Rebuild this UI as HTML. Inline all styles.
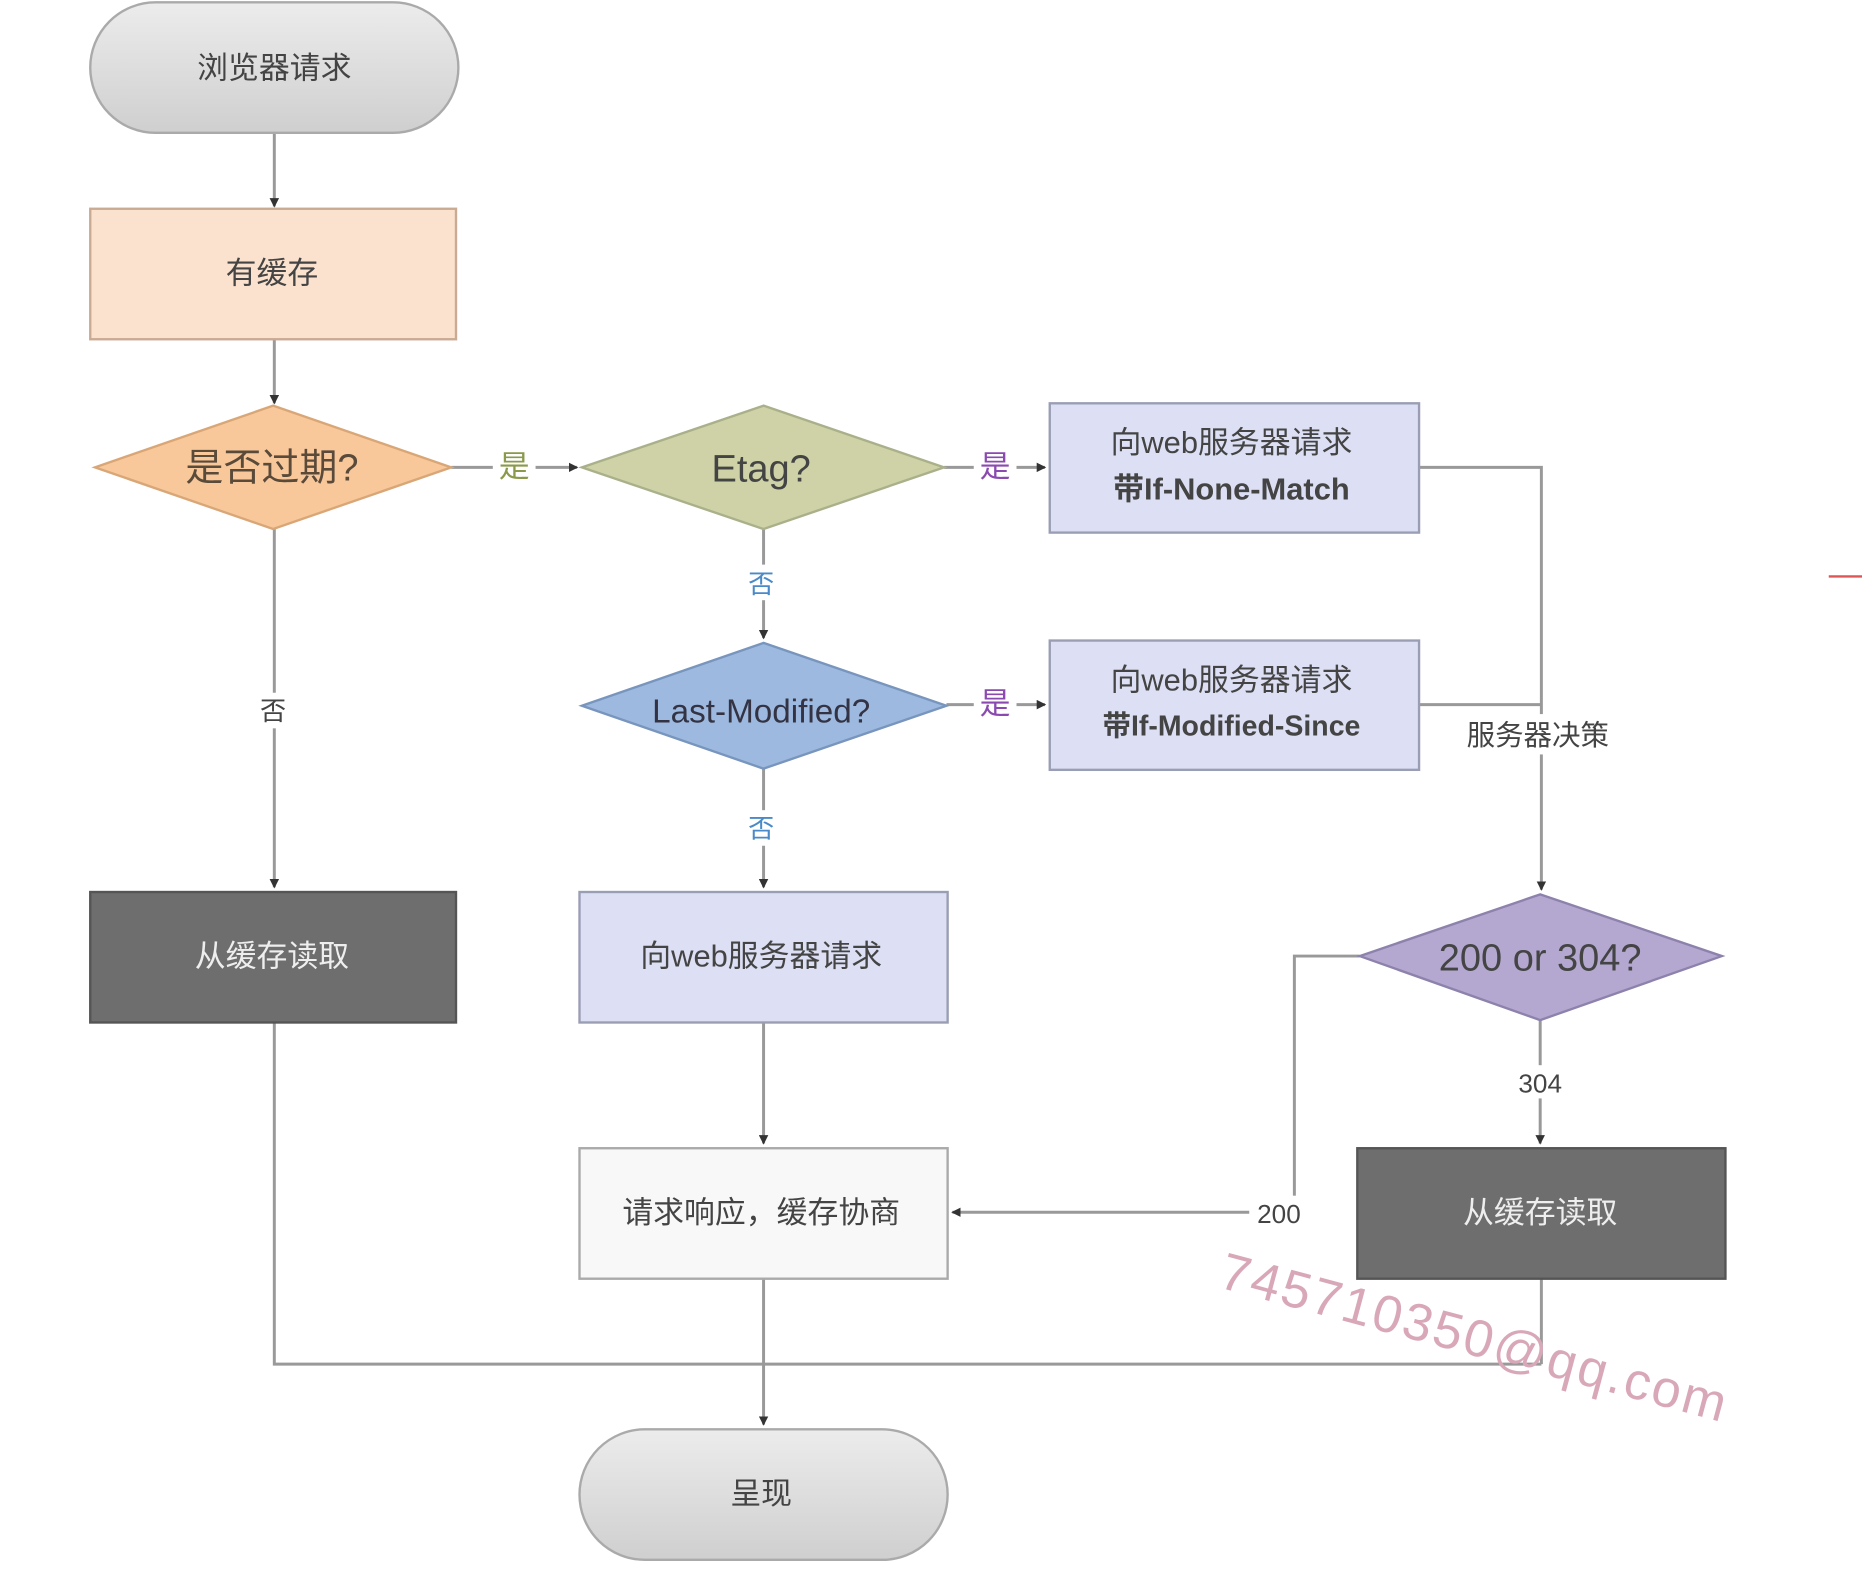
<!DOCTYPE html>
<html><head><meta charset="utf-8"><style>
html,body{margin:0;padding:0;background:#fff;}
svg{display:block}
text{font-family:"Liberation Sans","Noto Sans CJK SC",sans-serif;}
</style></head><body>
<svg width="1862" height="1580" viewBox="0 0 1568 1332" preserveAspectRatio="none" xmlns="http://www.w3.org/2000/svg">
<defs>
<linearGradient id="g" x1="0" y1="0" x2="0" y2="1"><stop offset="0" stop-color="#ececec"/><stop offset="1" stop-color="#cfcfcf"/></linearGradient>
<marker id="a" markerWidth="8" markerHeight="8" refX="7" refY="4" orient="auto" markerUnits="userSpaceOnUse"><path d="M0,0 L8,4 L0,8 z" fill="#333"/></marker>
</defs>
<rect width="1568" height="1332" fill="#fff"/>
<g stroke="#999" stroke-width="2.5" fill="none">
<line x1="231" y1="112" x2="231" y2="174" marker-end="url(#a)"/>
<line x1="231" y1="286" x2="231" y2="340" marker-end="url(#a)"/>
<line x1="380" y1="394" x2="486" y2="394" marker-end="url(#a)"/>
<line x1="795" y1="394" x2="880" y2="394" marker-end="url(#a)"/>
<polyline points="1195,394 1298,394 1298,750" marker-end="url(#a)"/>
<line x1="1195" y1="594" x2="1298" y2="594"/>
<line x1="643" y1="446" x2="643" y2="538" marker-end="url(#a)"/>
<line x1="797" y1="594" x2="880" y2="594" marker-end="url(#a)"/>
<line x1="643" y1="648" x2="643" y2="748" marker-end="url(#a)"/>
<line x1="643" y1="862" x2="643" y2="964" marker-end="url(#a)"/>
<line x1="643" y1="1078" x2="643" y2="1201" marker-end="url(#a)"/>
<line x1="231" y1="446" x2="231" y2="748" marker-end="url(#a)"/>
<polyline points="231,862 231,1150 1298,1150"/>
<line x1="1298" y1="1078" x2="1298" y2="1150"/>
<line x1="1297" y1="860" x2="1297" y2="964" marker-end="url(#a)"/>
<polyline points="1145,806 1090,806 1090,1022 802,1022" marker-end="url(#a)"/>
</g>
<g fill="#fff">
<rect x="415" y="378" width="36" height="30"/>
<rect x="820" y="378" width="36" height="30"/>
<rect x="820" y="578" width="36" height="30"/>
<rect x="625" y="476" width="34" height="30"/>
<rect x="625" y="683" width="34" height="30"/>
<rect x="214" y="584" width="34" height="30"/>
<rect x="1216" y="602" width="158" height="34"/>
<rect x="1272" y="898" width="50" height="28"/>
<rect x="1052" y="1008" width="52" height="28"/>
</g>
<g stroke-width="2">
<rect x="76" y="2" width="310" height="110" rx="55" fill="url(#g)" stroke="#aaa"/>
<rect x="76" y="176" width="308" height="110" fill="#fbe2cf" stroke="#c9ab93"/>
<polygon points="80,394 230,342 380,394 230,446" fill="#f8c89b" stroke="#d9a777"/>
<polygon points="490,394 643,342 795,394 643,446" fill="#cfd2a6" stroke="#aab08a"/>
<rect x="884" y="340" width="311" height="109" fill="#dde0f4" stroke="#9a9eb5"/>
<polygon points="490,595 643,542 797,595 643,648" fill="#9db9df" stroke="#7895bd"/>
<rect x="884" y="540" width="311" height="109" fill="#dde0f4" stroke="#9a9eb5"/>
<rect x="76" y="752" width="308" height="110" fill="#6e6e6e" stroke="#555"/>
<rect x="488" y="752" width="310" height="110" fill="#dde0f4" stroke="#9a9eb5"/>
<rect x="488" y="968" width="310" height="110" fill="#f8f8f8" stroke="#aaa"/>
<rect x="488" y="1205" width="310" height="110" rx="55" fill="url(#g)" stroke="#aaa"/>
<polygon points="1145,806 1297,754 1450,806 1297,860" fill="#b4a8d1" stroke="#8d82ac"/>
<rect x="1143" y="968" width="310" height="110" fill="#6e6e6e" stroke="#555"/>
</g>
<g font-size="26" text-anchor="middle" fill="#444">
<text x="231" y="66">浏览器请求</text>
<text x="229" y="239">有缓存</text>
<text x="229" y="405" font-size="32" fill="#5a4a3a">是否过期?</text>
<text x="641" y="406" font-size="32">Etag?</text>
<text x="641" y="609" font-size="28" fill="#334">Last-Modified?</text>
<text x="1037" y="382">向web服务器请求</text>
<text x="1037" y="421" font-weight="bold">带If-None-Match</text>
<text x="1037" y="582">向web服务器请求</text>
<text x="1037" y="620" font-size="24" font-weight="bold">带If-Modified-Since</text>
<text x="229" y="815" fill="#eee">从缓存读取</text>
<text x="641" y="815">向web服务器请求</text>
<text x="641" y="1031">请求响应，缓存协商</text>
<text x="641" y="1268">呈现</text>
<text x="1297" y="818" font-size="32">200 or 304?</text>
<text x="1297" y="1031" fill="#eee">从缓存读取</text>
<text x="1295" y="628" font-size="24">服务器决策</text>
<text x="1297" y="921" font-size="22">304</text>
<text x="1077" y="1031" font-size="22">200</text>
<text x="433" y="402" fill="#8a9a4a">是</text>
<text x="838" y="402" fill="#8a4ab0">是</text>
<text x="838" y="602" fill="#8a4ab0">是</text>
<text x="641" y="500" font-size="22" fill="#4a8ac8">否</text>
<text x="641" y="706" font-size="22" fill="#4a8ac8">否</text>
<text x="230" y="607" font-size="22">否</text>
</g>
<text x="1025" y="1085" font-size="44" letter-spacing="2" fill="#d9a8b8" transform="rotate(15 1025 1085)">745710350@qq.com</text>
<line x1="1540" y1="486" x2="1568" y2="486" stroke="#d55" stroke-width="2"/>
</svg>
</body></html>
